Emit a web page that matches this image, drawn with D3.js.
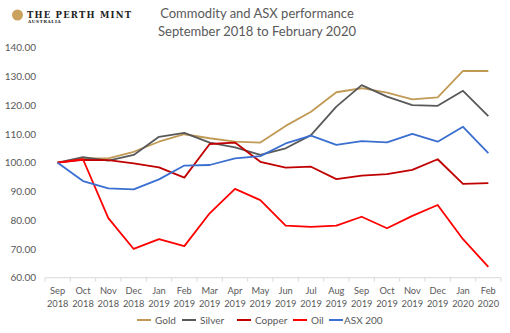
<!DOCTYPE html>
<html>
<head>
<meta charset="utf-8">
<script src="https://cdn.jsdelivr.net/npm/d3@7"></script>
<style>
  body { margin: 0; background: #fff; }
  svg { display: block; font-family: Lato, "Open Sans", sans-serif; }
</style>
</head>
<body>
<svg width="510" height="333"></svg>
<script>
const months = ['Sep', 'Oct', 'Nov', 'Dec', 'Jan', 'Feb', 'Mar', 'Apr', 'May', 'Jun',
    'Jul', 'Aug', 'Sep', 'Oct', 'Nov', 'Dec', 'Jan', 'Feb'];
const years = ['2018', '2018', '2018', '2018', '2019', '2019', '2019', '2019', '2019', '2019',
    '2019', '2019', '2019', '2019', '2019', '2019', '2020', '2020'];
const yTicks = [60, 70, 80, 90, 100, 110, 120, 130, 140];

const gold = [100, 101.5, 101.5, 103.8, 107.3, 109.9, 108.5, 107.3, 107, 112.8, 117.7, 124.5, 125.9, 124.4, 122, 122.7, 131.9, 131.9];
const silver = [100, 101.9, 100.7, 102.7, 109, 110.4, 107, 105.3, 102.7, 105, 109.6, 119.5, 127, 123, 120, 119.8, 125, 116.2];
const copper = [100, 101, 100.9, 99.8, 98.4, 94.8, 106.5, 107, 100.3, 98.3, 98.6, 94.3, 95.5, 96, 97.5, 101.2, 92.6, 92.9];
const oil = [100, 101.2, 80.7, 70, 73.4, 71, 82.4, 90.9, 87, 78.1, 77.7, 78.1, 81.2, 77.2, 81.5, 85.3, 73.4, 63.8];
const asx = [100, 93.6, 91.1, 90.7, 94.2, 99, 99.2, 101.5, 102.3, 106.7, 109.4, 106.2, 107.5, 107.1, 110, 107.3, 112.5, 103.3];

const series = [
    { name: 'Gold', values: gold, color: '#C19A56' },
    { name: 'Silver', values: silver, color: '#595959' },
    { name: 'Copper', values: copper, color: '#C00000' },
    { name: 'Oil', values: oil, color: '#FF0000' },
    { name: 'ASX 200', values: asx, color: '#3A6FD0' }
];

const svg = d3.select('svg');
const textColor = '#595959';

// logo
const logo = svg.append('g');
logo.append('circle')
    .attr('cx', 17.5).attr('cy', 15).attr('r', 5.5)
    .attr('fill', '#C9A35E');
logo.append('text')
    .attr('x', 27).attr('y', 17.5)
    .attr('font-family', '"DejaVu Serif", "Liberation Serif", serif')
    .attr('font-weight', 'bold')
    .attr('font-size', 8.5)
    .attr('letter-spacing', 1.2)
    .attr('fill', '#222')
    .text('THE PERTH MINT');
logo.append('text')
    .attr('x', 28).attr('y', 23)
    .attr('font-family', '"DejaVu Serif", serif')
    .attr('font-weight', 'bold')
    .attr('font-size', 4.2)
    .attr('letter-spacing', 0.6)
    .attr('fill', '#222')
    .text('AUSTRALIA');

// title
svg.append('text')
    .attr('x', 257).attr('y', 18)
    .attr('text-anchor', 'middle')
    .attr('font-size', 13)
    .attr('fill', textColor)
    .text('Commodity and ASX performance');
svg.append('text')
    .attr('x', 257).attr('y', 36)
    .attr('text-anchor', 'middle')
    .attr('font-size', 13)
    .attr('fill', textColor)
    .text('September 2018 to February 2020');

const plotLeft = 45, plotRight = 501, plotTop = 47.7, plotBottom = 277.7;

const x = d3.scaleBand()
    .domain(d3.range(months.length))
    .range([plotLeft, plotRight]);

const y = d3.scaleLinear()
    .domain([60, 140])
    .range([plotBottom, plotTop]);

// y axis
const yAxis = svg.append('g')
    .attr('transform', `translate(${plotLeft},0)`)
    .call(d3.axisLeft(y).tickValues(yTicks).tickFormat(d3.format('.2f')).tickSize(0).tickPadding(9));
yAxis.select('.domain').remove();
yAxis.selectAll('.tick text')
    .attr('font-size', 10)
    .attr('font-family', 'Lato, sans-serif')
    .attr('fill', textColor);

// x axis
const xAxis = svg.append('g')
    .attr('transform', `translate(0,${plotBottom})`);
xAxis.append('line')
    .attr('x1', plotLeft).attr('x2', plotRight)
    .attr('stroke', '#D9D9D9');
xAxis.selectAll('.tk')
    .data(d3.range(months.length + 1))
    .join('line')
    .attr('class', 'tk')
    .attr('x1', d => plotLeft + d * x.bandwidth())
    .attr('x2', d => plotLeft + d * x.bandwidth())
    .attr('y1', 0).attr('y2', 4)
    .attr('stroke', '#D9D9D9');
const lab = xAxis.selectAll('.lab')
    .data(d3.range(months.length))
    .join('text')
    .attr('class', 'lab')
    .attr('text-anchor', 'middle')
    .attr('font-size', 9.3)
    .attr('fill', textColor);
lab.append('tspan')
    .attr('x', d => x(d) + x.bandwidth() / 2)
    .attr('y', 16)
    .text(d => months[d]);
lab.append('tspan')
    .attr('x', d => x(d) + x.bandwidth() / 2)
    .attr('y', 29)
    .text(d => years[d]);

// lines
const line = d3.line()
    .x((d, i) => x(i) + x.bandwidth() / 2)
    .y(d => y(d));

svg.append('g')
    .selectAll('path')
    .data(series)
    .join('path')
    .attr('d', d => line(d.values))
    .attr('fill', 'none')
    .attr('stroke', d => d.color)
    .attr('stroke-width', 1.8)
    .attr('stroke-linejoin', 'round');

// legend
const legendX = [137, 182, 237, 293, 329];
const legend = svg.append('g')
    .selectAll('g')
    .data(series)
    .join('g')
    .attr('transform', (d, i) => `translate(${legendX[i]},320)`);
legend.append('line')
    .attr('x1', 0).attr('x2', 14)
    .attr('stroke', d => d.color)
    .attr('stroke-width', 2);
legend.append('text')
    .attr('x', (d, i) => i == 4 ? 15 : 18)
    .attr('y', 3.5)
    .attr('font-size', 10)
    .attr('fill', textColor)
    .text(d => d.name);
</script>
</body>
</html>
